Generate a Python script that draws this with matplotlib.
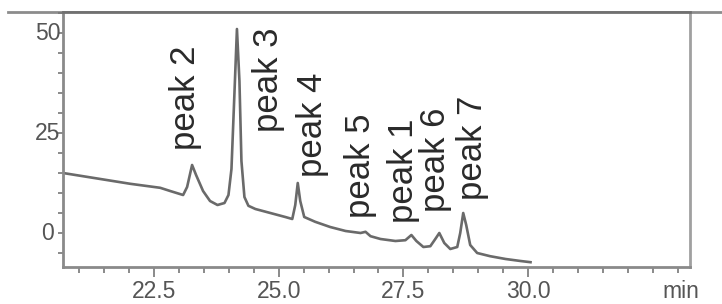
import matplotlib
matplotlib.use("Agg")
import matplotlib.pyplot as plt
from matplotlib.ticker import MultipleLocator
from matplotlib.lines import Line2D
import matplotlib.transforms as mtransforms

plt.rcParams['font.family'] = ['Liberation Sans', 'DejaVu Sans']

# chromatogram trace (time in min, signal)
time_min = [20.67, 21.42, 22.02, 22.62, 22.82, 23.08, 23.16, 23.26, 23.34, 23.48,
            23.62, 23.77, 23.91, 23.99, 24.05, 24.11, 24.16, 24.21, 24.25, 24.31,
            24.39, 24.53, 24.83, 25.13, 25.27, 25.33, 25.38, 25.43, 25.51, 25.73,
            26.03, 26.34, 26.64, 26.74, 26.84, 27.04, 27.34, 27.54, 27.66, 27.76,
            27.90, 28.04, 28.14, 28.22, 28.32, 28.44, 28.58, 28.64, 28.70, 28.76,
            28.84, 28.98, 29.24, 29.55, 29.85, 30.05]
signal = [15.0, 13.5, 12.3, 11.3, 10.5, 9.5, 11.5, 17.0, 14.5, 10.5,
          8.0, 7.0, 7.5, 9.5, 16.0, 35.0, 51.0, 38.0, 18.0, 9.0,
          6.8, 6.0, 5.0, 4.0, 3.5, 7.0, 12.5, 8.0, 4.0, 2.8,
          1.5, 0.5, 0.0, 0.3, -0.8, -1.5, -2.0, -1.8, -0.5, -2.0,
          -3.5, -3.3, -1.5, 0.0, -2.5, -4.0, -3.5, 0.0, 5.0, 2.0,
          -3.0, -5.0, -5.8, -6.5, -7.0, -7.3]

# peak annotations
peak_labels = ["peak 2", "peak 3", "peak 4", "peak 5", "peak 1", "peak 6", "peak 7"]
peak_label_x = [23.12, 24.79, 25.67, 26.64, 27.50, 28.14, 28.89]
peak_label_y = [20.75, 25.25, 14.0, 3.75, 2.5, 5.25, 8.25]

x_ticks = [22.5, 25.0, 27.5, 30.0]
x_tick_labels = ["22.5", "25.0", "27.5", "30.0"]
y_ticks = [0, 25, 50]
y_tick_labels = ["0", "25", "50"]
x_unit = "min"

W, H = 722, 304
fig = plt.figure(figsize=(W / 100, H / 100), dpi=100)
ax_w = 690 - 63
ax = fig.add_axes([63 / W, 37 / H, ax_w / W, (267 - 12) / H])

ax.plot(time_min, signal, color="#6a6a6a", lw=1.9, solid_joinstyle="round")

ax.set_xlim(20.67, 33.25)
ax.set_ylim(-8.5, 55.25)

ax.xaxis.set_minor_locator(MultipleLocator(0.5))
ax.yaxis.set_minor_locator(MultipleLocator(5))

ax.tick_params(axis="x", which="major", direction="out", length=7, width=1.2,
               color="#777777", labelsize=16.5, labelcolor="#555555", pad=2)
ax.tick_params(axis="x", which="minor", direction="out", length=4, width=1.2,
               color="#777777")
ax.tick_params(axis="y", which="both", direction="out", length=3.5, width=1.2,
               color="#777777", labelleft=False)

ax.set_xticks(x_ticks, labels=x_tick_labels)
ax.set_yticks(y_ticks)

# y tick labels, centred a little left of the spine
ytrans = mtransforms.blended_transform_factory(ax.transAxes, ax.transData)
for val, lab in zip(y_ticks, y_tick_labels):
    ax.text(-15.0 / ax_w, val, lab, transform=ytrans, ha="center", va="center",
            fontsize=16.5, color="#555555", clip_on=False)

for side, col, lw in [("left", "#8a8a8a", 2.0), ("bottom", "#8a8a8a", 2.0),
                      ("right", "#a0a0a0", 2.0), ("top", "#707070", 2.0)]:
    ax.spines[side].set_color(col)
    ax.spines[side].set_linewidth(lw)

# top rule extending beyond the axes
fig.add_artist(Line2D([8 / W, 1.0], [1 - 12 / H, 1 - 12 / H], color="#8c8c8c",
                      lw=2.0, transform=fig.transFigure, zorder=0))

for lab, px, py in zip(peak_labels, peak_label_x, peak_label_y):
    ax.text(px, py, lab, rotation=90, ha="center", va="bottom",
            fontsize=25, color="#2a2a2a")

ax.text(33.07, -11.7, x_unit, ha="center", va="top", fontsize=16.5,
        color="#555555")

fig.savefig("out.png", dpi=100)
